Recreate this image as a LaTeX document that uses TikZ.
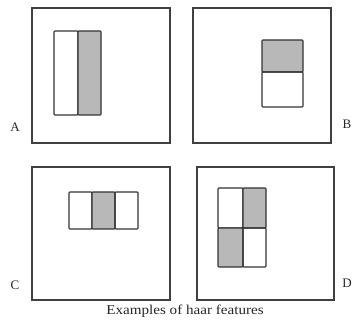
\documentclass[tikz,border=0pt]{standalone}
\usepackage{fontspec}
\setmainfont{Liberation Serif}
\begin{document}
\begin{tikzpicture}[x=1pt,y=-1pt,
  frame/.style={draw=black!75,line width=1.1pt},
  cell/.style={draw=black!80,line width=1.1pt,rounded corners=0.8pt},
  dark/.style={cell,fill=black!28},
  lbl/.style={font=\fontsize{13}{14}\selectfont,text=black!85,inner sep=0pt}]
\useasboundingbox (0,0) rectangle (353,320);
% A
\draw[frame] (32,8) rectangle (170,143);
\draw[cell] (54,31) rectangle (78,115);
\draw[dark] (78,31) rectangle (101,115);
\node[lbl] (la) at (15,127) {A};
% B
\draw[frame] (193,8) rectangle (331,143);
\draw[dark] (262,40) rectangle (303,72);
\draw[cell] (262,72) rectangle (303,107);
\node[lbl] (lb) at (347,124) {B};
% C
\draw[frame] (32,167) rectangle (170,300);
\draw[cell] (69,192) rectangle (92,229);
\draw[dark] (92,192) rectangle (115,229);
\draw[cell] (115,192) rectangle (138,229);
\node[lbl] (lc) at (15,285) {C};
% D
\draw[frame] (197,167) rectangle (334,300);
\draw[cell] (218,188) rectangle (243,228);
\draw[dark] (243,188) rectangle (266,228);
\draw[dark] (218,228) rectangle (243,267);
\draw[cell] (243,228) rectangle (266,267);
\node[lbl] (ld) at (347,283) {D};
% caption
\node[lbl,font=\fontsize{13.5}{14}\selectfont,xscale=1.12] (cap) at (185,311) {Examples of haar features};
\end{tikzpicture}
\end{document}
